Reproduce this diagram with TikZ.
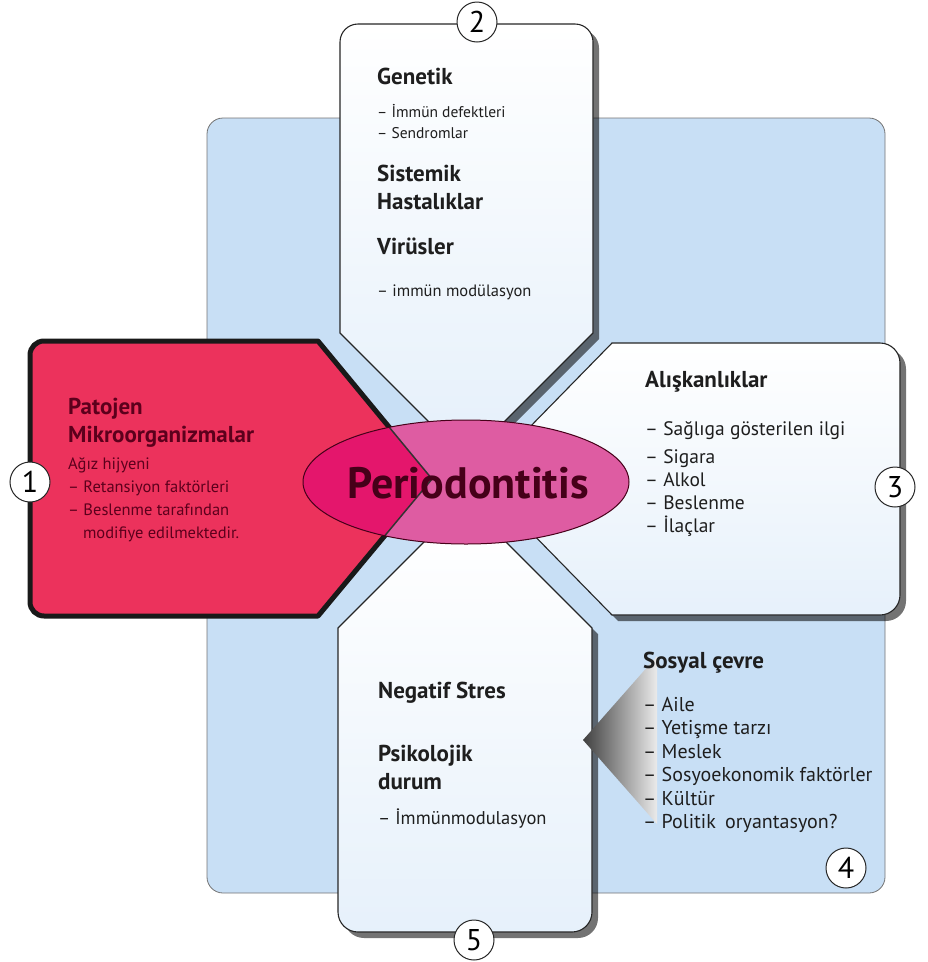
\documentclass[tikz,border=0pt]{standalone}
\usepackage{fontspec}
\setmainfont{PT Sans}
\usepackage{xcolor}
\usepackage{tikz}
\usetikzlibrary{shadows}

\definecolor{bgblue}{RGB}{200,223,245}
\definecolor{redfill}{RGB}{236,50,92}
\definecolor{pinkell}{RGB}{222,92,162}
\definecolor{deeppink}{RGB}{228,22,108}
\definecolor{maroon}{RGB}{70,0,25}
\definecolor{redtext}{RGB}{92,0,28}
\definecolor{txtgray}{RGB}{30,30,30}

\begin{document}
\begin{tikzpicture}[x=1pt, y=-1pt,
    bgbox/.style={fill=bgblue, draw=black!55, line width=0.8pt, rounded corners=16pt},
    wbox/.style={draw=black!85, line width=1.1pt, top color=white, bottom color=bgblue!45,
                 drop shadow={shadow xshift=6pt, shadow yshift=-6pt, opacity=0.55, fill=black}},
    redbox/.style={fill=redfill, draw=black!90, line width=5pt, line join=round},
    num/.style={circle, draw=black!85, fill=white, line width=1pt, minimum size=40pt,
                inner sep=0pt, font=\fontsize{30}{30}\selectfont},
    head/.style={anchor=north west, inner sep=0pt, align=left, text=txtgray,
                 font=\fontsize{23}{28}\selectfont\bfseries},
    item/.style={anchor=north west, inner sep=0pt, align=left, text=txtgray,
                 font=\fontsize{16.5}{23}\selectfont},
    bigitem/.style={item, font=\fontsize{19.5}{23.5}\selectfont},
    perio/.style={inner sep=0pt, text=maroon, font=\fontsize{44}{44}\selectfont\bfseries}
  ]
  \useasboundingbox (0,0) rectangle (928,962);

  % background
  \draw[bgbox] (207,118) rectangle (885,893);

  % white boxes
  \draw[wbox] (340,333) [rounded corners=18pt] -- (340,24) -- (593,24) [sharp corners]
    -- (593,333) -- (493,433) -- (440,433) -- cycle;
  \draw[wbox] (612,343) [rounded corners=20pt] -- (900,343) -- (900,615) [sharp corners]
    -- (612,615) -- (479,479) -- cycle;
  \draw[wbox] (338,628) -- (438,528) -- (492,528) -- (592,628) [rounded corners=20pt]
    -- (592,932) -- (338,932) [sharp corners] -- cycle;

  % red box
  \draw[redbox] (200,341) [rounded corners=14pt] -- (30,341) -- (30,616) -- (200,616)
    [sharp corners] -- (318,616) -- (432,479) -- (318,341) -- cycle;

  % centre
  \fill[pinkell] (466,482) ellipse [x radius=163pt, y radius=62pt];
  \begin{scope}
    \clip (466,482) ellipse [x radius=163pt, y radius=62pt];
    \fill[deeppink] (30,341) -- (318,341) -- (432,479) -- (318,616) -- (30,616) -- cycle;
    \draw[black!80, line width=1.5pt] (318,341) -- (432,479) -- (318,616);
  \end{scope}
  \draw[maroon, line width=1pt] (466,482) ellipse [x radius=163pt, y radius=62pt];
  \node[perio] (perio) at (468,483) {Periodontitis};

  % arrow into the social box
  \shade[left color=black!75, right color=black!8] (583,740) -- (657,656) -- (657,824) -- cycle;

  % 1
  \node[head, text=redtext] (pat) at (68,398) {Patojen\\Mikroorganizmalar};
  \node[item, text=redtext] (patl) at (68,457)
    {Ağız hijyeni\\-- Retansiyon faktörleri\\-- Beslenme tarafından\\\hspace*{0.9em}modifiye edilmektedir.};

  % 2
  \node[head] (gen) at (377,68) {Genetik};
  \node[item, font=\fontsize{15.5}{21}\selectfont] (genl) at (377,104) {-- İmmün defektleri\\-- Sendromlar};
  \node[head] (sis) at (377,165) {Sistemik\\Hastalıklar};
  \node[head] (vir) at (377,238) {Virüsler};
  \node[item] (virl) at (377,285) {-- immün modülasyon};

  % 3
  \node[head] (ali) at (645,371) {Alışkanlıklar};
  \node[bigitem, font=\fontsize{19.5}{23}\selectfont] (alil) at (645,421)
    {-- Sağlıga gösterilen ilgi\\[5pt]-- Sigara\\-- Alkol\\-- Beslenme\\-- İlaçlar};

  % 4
  \node[head] (sos) at (643,652) {Sosyal çevre};
  \node[bigitem, font=\fontsize{20}{23.5}\selectfont] (sosl) at (643,697)
    {-- Aile\\-- Yetişme tarzı\\-- Meslek\\-- Sosyoekonomik faktörler\\-- Kültür\\-- Politik\hspace{4pt} oryantasyon?};

  % 5
  \node[head] (neg) at (378,682) {Negatif Stres};
  \node[head] (psi) at (378,745) {Psikolojik\\durum};
  \node[item, font=\fontsize{18.5}{23}\selectfont] (psil) at (378,809) {-- İmmünmodulasyon};

  % numbers
  \node[num] (n1) at (30,482) {1};
  \node[num] (n2) at (477,22) {2};
  \node[num] (n3) at (895,487) {3};
  \node[num] (n4) at (846,868) {4};
  \node[num] (n5) at (474,940) {5};
\end{tikzpicture}
\end{document}
